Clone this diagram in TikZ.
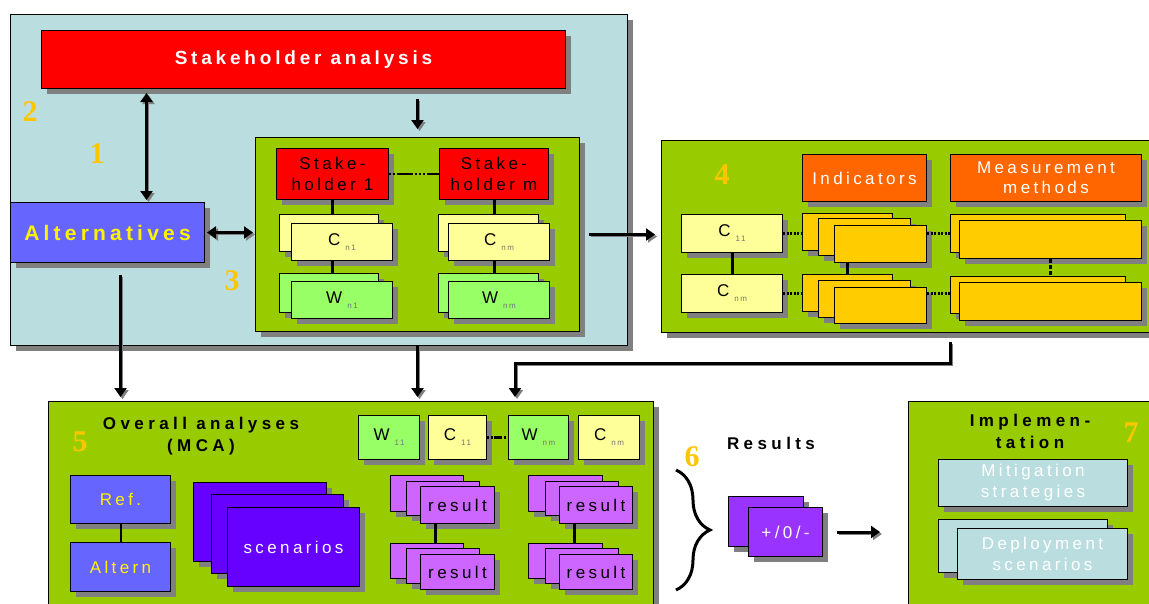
\documentclass[tikz,border=0pt]{standalone}
\usepackage{fontspec}
\setmainfont{Liberation Sans}
\newfontfamily\wide[LetterSpace=20]{Liberation Sans}
\newfontfamily\wider[LetterSpace=26]{Liberation Sans}
\newfontfamily\numfont{Liberation Serif}
\usetikzlibrary{positioning, arrows.meta, shadows, decorations.pathreplacing}
\definecolor{panelblue}{RGB}{186,222,224}
\definecolor{panelgreen}{RGB}{153,204,0}
\definecolor{shred}{RGB}{255,0,0}
\definecolor{altblue}{RGB}{102,102,255}
\definecolor{cyellow}{RGB}{255,255,153}
\definecolor{wgreen}{RGB}{153,255,102}
\definecolor{indorange}{RGB}{255,102,0}
\definecolor{indgold}{RGB}{255,204,0}
\definecolor{scenviolet}{RGB}{102,0,255}
\definecolor{respurple}{RGB}{204,102,255}
\definecolor{pmpurple}{RGB}{153,51,255}
\definecolor{numgold}{RGB}{255,198,0}
\definecolor{shadowgray}{RGB}{128,128,128}
\newcommand{\critidx}[2]{#1\hspace{5pt}\raisebox{-5pt}{\fontsize{8}{8}\selectfont\color{black!55}#2}}

\begin{document}
\begin{tikzpicture}[x=1pt, y=-1pt,
  box/.style={draw, line width=1pt, anchor=north west, inner sep=0pt,
              align=center, font=\wide\fontsize{17}{21}\selectfont,
              drop shadow={shadow xshift=5pt, shadow yshift=-5pt,
                           fill=shadowgray, opacity=1}},
  sz/.style 2 args={minimum width=#1pt, minimum height=#2pt},
  panel/.style={box, fill=panelgreen},
  title/.style={font=\wider\bfseries\fontsize{17}{22}\selectfont, align=center},
  num/.style={font=\numfont\bfseries\fontsize{30}{30}\selectfont, text=numgold},
  link/.style={line width=3pt},
  dots/.style={line width=3pt, dash pattern=on 2pt off 1.5pt},
  arr/.style={line width=3pt, -{Triangle[length=9pt,width=12pt]},
              preaction={draw=shadowgray, transform canvas={shift={(2pt,-2pt)}}}},
  darr/.style={arr, {Triangle[length=9pt,width=12pt]}-{Triangle[length=9pt,width=12pt]}},
  brace/.style={decorate, decoration={brace, amplitude=34pt}, line width=3pt}]
\useasboundingbox (0,0) rectangle (1149,603);

% 2/3: stakeholders
\node[box, sz={617}{331}, fill=panelblue] (panel2) at (10,14) {};
\node[box, sz={524}{58}, fill=shred, text=white,
      font=\wide\bfseries\fontsize{19}{22}\selectfont] (sha) at (41,30) {Stakeholder analysis};
\node[box, sz={194}{60}, fill=altblue, text=yellow,
      font=\wide\bfseries\fontsize{21}{24}\selectfont] (alt) at (10,202) {Alternatives};
\node[panel, sz={324}{194}] (panel3) at (255,137) {};
\node[box, sz={112}{51}, fill=shred] (sh1) at (276,148) {Stake-\\holder 1};
\node[box, sz={109}{51}, fill=shred] (shm) at (439,148) {Stake-\\holder m};
\node[box, sz={99}{37}, fill=cyellow] (cn1b) at (279,214) {};
\node[box, sz={101}{37}, fill=cyellow] (cn1) at (291,223) {\critidx{C}{n1}};
\node[box, sz={100}{37}, fill=cyellow] (cnmb) at (438,214) {};
\node[box, sz={101}{37}, fill=cyellow] (cnm) at (448,223) {\critidx{C}{nm}};
\node[box, sz={99}{39}, fill=wgreen] (wn1b) at (279,273) {};
\node[box, sz={101}{37}, fill=wgreen] (wn1) at (291,281) {\critidx{W}{n1}};
\node[box, sz={100}{39}, fill=wgreen] (wnmb) at (438,273) {};
\node[box, sz={101}{37}, fill=wgreen] (wnm) at (448,281) {\critidx{W}{nm}};
\node[num] (n1) at (97,154) {1};
\node[num] (n2) at (30,112) {2};
\node[num] (n3) at (232,281) {3};

\draw[line width=2.5pt, dash pattern=on 2pt off 2pt on 2pt off 2pt on 16pt off 2pt on 2pt off 2pt]
  (sh1.east) -- (shm.west);
\draw[link] (sh1.south) -- (sh1.south |- cn1b.north);
\draw[link] (sh1.south |- cn1.south) -- (sh1.south |- wn1b.north);
\draw[link] (shm.south) -- (shm.south |- cnmb.north);
\draw[link] (shm.south |- cnm.south) -- (shm.south |- wnmb.north);
\draw[darr, shorten <=4pt, shorten >=2pt] ([xshift=39pt]alt.north |- sha.south) -- ([xshift=39pt]alt.north);
\draw[arr, shorten <=10pt, shorten >=8pt] (sha.south -| panel3.north) -- (panel3.north);
\draw[darr, shorten <=2pt, shorten >=2pt] (alt.east) -- (alt.east -| panel3.west);

% 4: indicators
\node[panel, sz={500}{192}] (panel4) at (661,140) {};
\node[box, sz={124}{47}, fill=indorange, text=white] (ind) at (802,154) {Indicators};
\node[box, sz={191}{47}, fill=indorange, text=white, font=\wide\fontsize{17}{20}\selectfont]
  (meas) at (950,154) {Measurement\\methods};
\node[box, sz={101}{38}, fill=cyellow] (c11) at (681,214) {\critidx{C}{11}};
\node[box, sz={101}{38}, fill=cyellow] (cnmr) at (681,274) {\critidx{C}{nm}};
\node[box, sz={90}{37}, fill=indgold] (ia1) at (802,213) {};
\node[box, sz={92}{37}, fill=indgold] (ia2) at (818,218) {};
\node[box, sz={92}{37}, fill=indgold] (ia3) at (834,225) {};
\node[box, sz={90}{37}, fill=indgold] (ib1) at (802,274) {};
\node[box, sz={92}{37}, fill=indgold] (ib2) at (818,280) {};
\node[box, sz={92}{36}, fill=indgold] (ib3) at (834,287) {};
\node[box, sz={175}{38}, fill=indgold] (mt1) at (950,214) {};
\node[box, sz={182}{38}, fill=indgold] (mt2) at (959,220) {};
\node[box, sz={175}{37}, fill=indgold] (mu1) at (950,276) {};
\node[box, sz={182}{38}, fill=indgold] (mu2) at (959,282) {};
\node[num] (n4) at (722,175) {4};

\draw[link] (c11) -- (cnmr);
\draw[dots] (c11.east) -- (c11.east -| ia1.west);
\draw[dots] (cnmr.east) -- (cnmr.east -| ib1.west);
\draw[link] (ia1.south |- ia3.south) -- (ia1.south |- ib1.north);
\draw[dots] (c11.east -| ia3.east) -- (c11.east -| mt1.west);
\draw[dots] (cnmr.east -| ib3.east) -- (cnmr.east -| mu1.west);
\draw[line width=3pt, dash pattern=on 4pt off 2pt] (mt2.south) -- (mt2.south |- mu1.north);
\draw[arr, shorten <=9pt, shorten >=6pt] (panel3.east) -- (panel3.east -| panel4.west);

% 5: overall analyses
\node[panel, sz={605}{215}] (panel5) at (48,401) {};
\node[title] (oa) at (201,436) {Overall analyses\\(MCA)};
\node[num] (n5) at (80,442) {5};
\node[box, sz={61}{44}, fill=wgreen] (w11) at (358,415) {\critidx{W}{11}};
\node[box, sz={58}{44}, fill=cyellow] (c11b) at (428,415) {\critidx{C}{11}};
\node[box, sz={60}{44}, fill=wgreen] (wnm5) at (508,415) {\critidx{W}{nm}};
\node[box, sz={61}{44}, fill=cyellow] (cnm5) at (578,415) {\critidx{C}{nm}};
\node[box, sz={100}{48}, fill=altblue, text=yellow] (ref) at (70,475) {Ref.};
\node[box, sz={100}{49}, fill=altblue, text=yellow] (altn) at (70,542) {Altern};
\node[box, sz={133}{79}, fill=scenviolet] (sc1) at (193,482) {};
\node[box, sz={132}{79}, fill=scenviolet] (sc2) at (211,494) {};
\node[box, sz={132}{79}, fill=scenviolet, text=white] (sc3) at (227,507) {scenarios};
\node[box, sz={73}{36}, fill=respurple] (ra1) at (390,475) {};
\node[box, sz={73}{34}, fill=respurple] (ra2) at (406,481) {};
\node[box, sz={74}{37}, fill=respurple] (ra3) at (420,486) {result};
\node[box, sz={73}{35}, fill=respurple] (rb1) at (390,543) {};
\node[box, sz={73}{35}, fill=respurple] (rb2) at (406,548) {};
\node[box, sz={74}{35}, fill=respurple] (rb3) at (420,554) {result};
\node[box, sz={74}{36}, fill=respurple] (rc1) at (528,475) {};
\node[box, sz={73}{34}, fill=respurple] (rc2) at (545,481) {};
\node[box, sz={73}{37}, fill=respurple] (rc3) at (559,486) {result};
\node[box, sz={74}{35}, fill=respurple] (rd1) at (528,543) {};
\node[box, sz={73}{35}, fill=respurple] (rd2) at (545,548) {};
\node[box, sz={73}{35}, fill=respurple] (rd3) at (559,554) {result};

\draw[line width=3pt, dash pattern=on 2pt off 1.5pt on 2pt off 1.5pt on 8pt off 2pt] (c11b) -- (wnm5);
\draw[line width=2pt] (ref) -- (altn);
\draw[link] ([xshift=-22pt]ra3.south) -- ([xshift=-22pt]ra3.south |- rb1.north);
\draw[link] ([xshift=-22pt]rc3.south) -- ([xshift=-22pt]rc3.south |- rd1.north);

% arrows into 5
\coordinate (bend) at (515,363);
\draw[arr, shorten <=12pt, shorten >=4pt] ([xshift=13pt]alt.south) -- ([xshift=13pt]alt.south |- panel5.north);
\draw[arr, shorten >=4pt] (panel3.south |- panel2.south) -- (panel3.south |- panel5.north);
\draw[arr, shorten >=4pt] ([yshift=-9pt]mt1.west |- panel4.south) |- (bend) -- (bend |- panel5.north);

% 6: results
\coordinate (bt) at (676,470);
\coordinate (bb) at (676,590);
\draw[brace] (bt) -- (bb);
\node[num] (n6) at (692,457) {6};
\node[title] (res) at (771,443) {Results};
\node[box, sz={75}{50}, fill=pmpurple] (pm1) at (728,496) {};
\node[box, sz={74}{49}, fill=pmpurple, text=white] (pm2) at (748,507) {+/0/-};

% 7: implementation
\node[panel, sz={260}{215}] (panel7) at (908,401) {};
\node[title] (impl) at (1030,431) {Implemen-\\tation};
\node[num] (n7) at (1131,433) {7};
\node[box, sz={189}{47}, fill=panelblue, text=white] (mit) at (938,459) {Mitigation\\strategies};
\node[box, sz={169}{53}, fill=panelblue] (dep1) at (938,519) {};
\node[box, sz={170}{51}, fill=panelblue, text=white] (dep2) at (957,528) {Deployment\\scenarios};
\draw[arr, shorten <=14pt, shorten >=28pt] (pm2.east) -- (pm2.east -| panel7.west);
\end{tikzpicture}
\end{document}
